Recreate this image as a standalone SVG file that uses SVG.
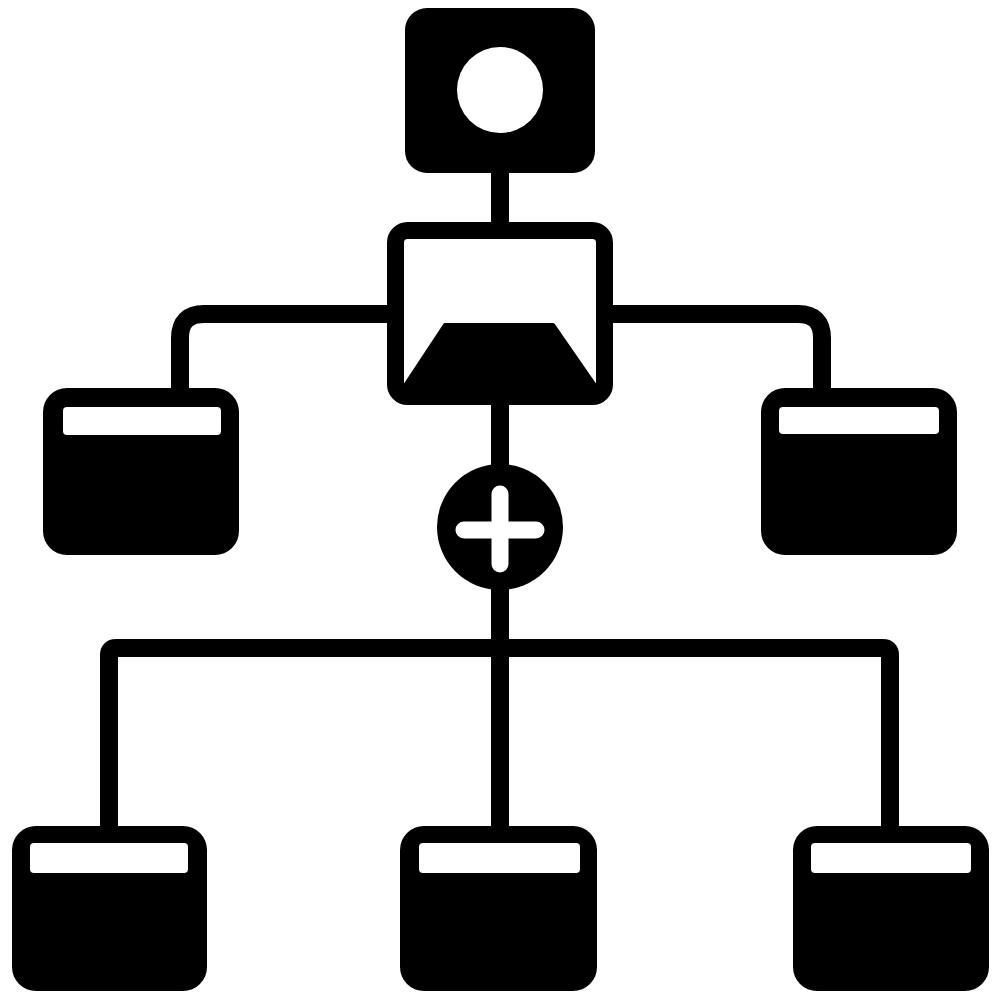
<svg xmlns="http://www.w3.org/2000/svg" width="1000" height="1000" viewBox="0 0 1000 1000">
  <style>
    .conn { fill: none; stroke: #000; stroke-width: 18; stroke-linecap: butt; }
    .box { fill: #000; }
    .bar { fill: #fff; }
  </style>
  <rect width="1000" height="1000" fill="#fff"/>
  <g id="connectors">
    <path class="conn" d="M500,168 V228"/>
    <path class="conn" d="M500,398 V470"/>
    <path class="conn" d="M500,585 V830"/>
    <path class="conn" d="M180,392 V338 Q180,314 204,314 H396"/>
    <path class="conn" d="M604,314 H798 Q822,314 822,338 V392"/>
    <path class="conn" d="M109,830 V655 Q109,648 116,648 H883 Q890,648 890,655 V830"/>
  </g>
  <g id="node-top">
    <rect class="box" x="405" y="8" width="190" height="165" rx="22"/>
    <circle cx="500" cy="90" r="43" fill="#fff"/>
  </g>
  <g id="node-center">
    <rect x="395.5" y="230.5" width="209" height="166" rx="12" fill="#fff" stroke="#000" stroke-width="17"/>
    <path d="M445,325 H553 L598,390 H402 Z" fill="#000" stroke="#000" stroke-width="4" stroke-linejoin="round"/>
  </g>
  <g id="node-left">
    <rect class="box" x="43" y="388" width="196" height="167" rx="24"/>
    <rect class="bar" x="63" y="407" width="158" height="28" rx="4"/>
  </g>
  <g id="node-right">
    <rect class="box" x="761" y="388" width="196" height="167" rx="24"/>
    <rect class="bar" x="779" y="407" width="160" height="27" rx="4"/>
  </g>
  <g id="node-plus">
    <circle cx="500" cy="527" r="63" fill="#000"/>
    <path d="M464,530 H536 M500,494 V564" stroke="#fff" stroke-width="17" stroke-linecap="round" fill="none"/>
  </g>
  <g id="node-bottom-left">
    <rect class="box" x="12" y="826" width="195" height="165" rx="24"/>
    <rect class="bar" x="30" y="843" width="158" height="30" rx="4"/>
  </g>
  <g id="node-bottom-center">
    <rect class="box" x="400" y="826" width="197" height="165" rx="24"/>
    <rect class="bar" x="419" y="843" width="161" height="30" rx="4"/>
  </g>
  <g id="node-bottom-right">
    <rect class="box" x="793" y="826" width="196" height="165" rx="24"/>
    <rect class="bar" x="811" y="843" width="160" height="30" rx="4"/>
  </g>
</svg>
